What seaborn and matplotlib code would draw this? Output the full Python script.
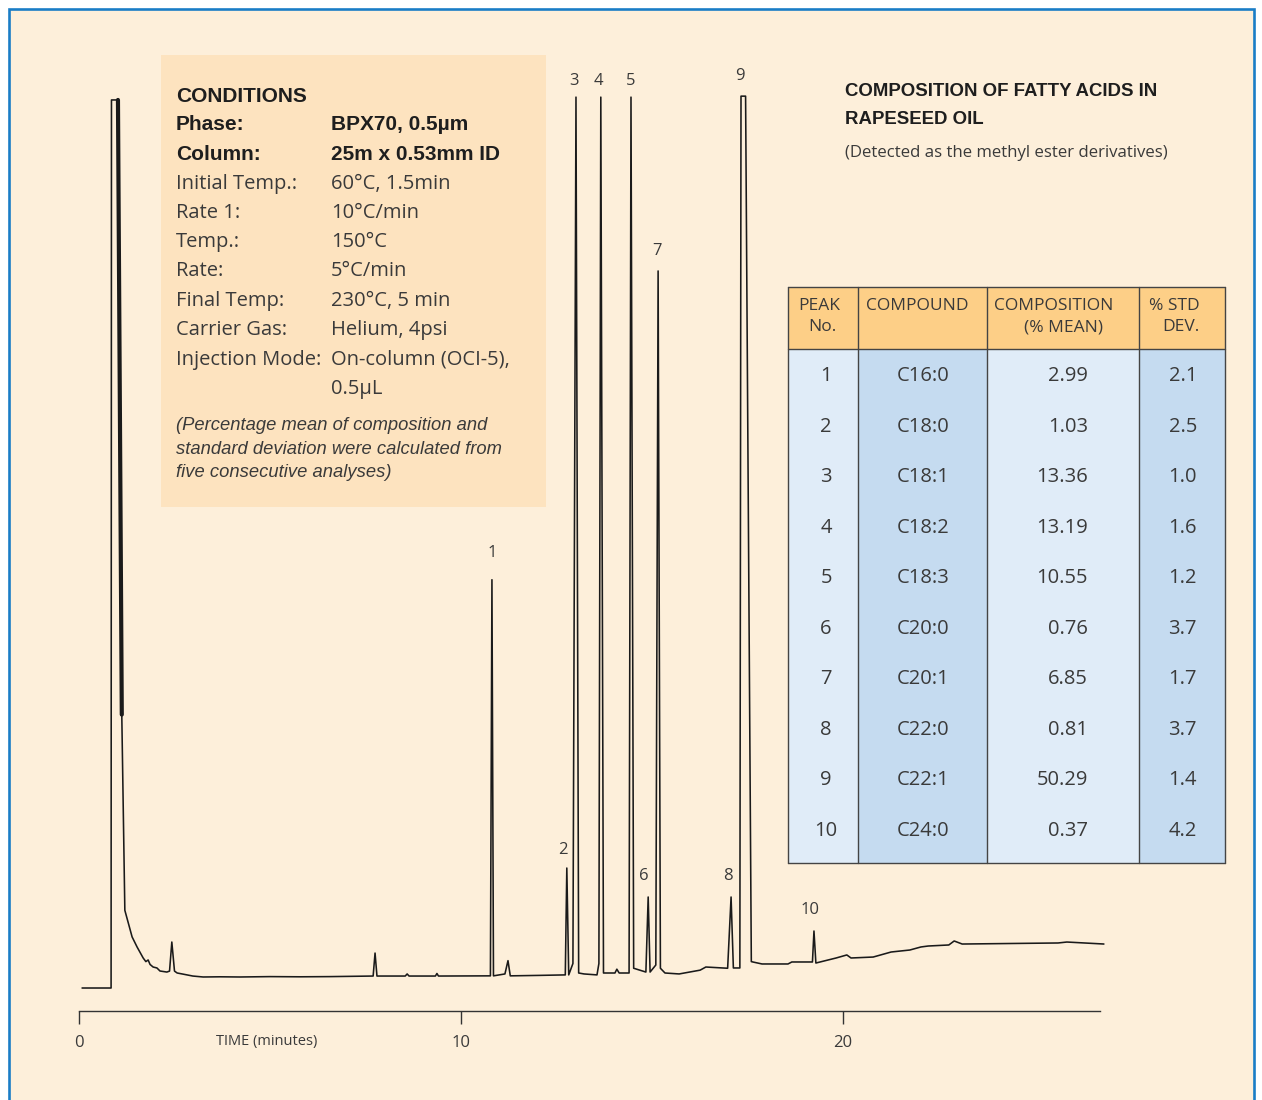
import matplotlib
matplotlib.use("Agg")
import matplotlib.pyplot as plt
from matplotlib.patches import Rectangle
import seaborn as sns
import pandas as pd

# ---------------- data ----------------
trace_time = [0.08, 0.84, 0.85, 1.02, 1.12, 1.20, 1.39, 1.52, 1.68, 1.75, 1.81, 1.86, 1.94,
              2.04, 2.12, 2.30, 2.37, 2.43, 2.50, 2.57, 2.70, 2.98, 3.25, 3.69, 4.21, 5.00,
              5.79, 6.57, 7.70, 7.75, 7.80, 8.54, 8.59, 8.64, 9.33, 9.37, 9.41, 10.77, 10.81,
              10.85, 11.15, 11.23, 11.29, 12.07, 12.73, 12.77, 12.82, 12.93, 13.01, 13.08,
              13.22, 13.56, 13.61, 13.66, 13.73, 14.03, 14.08, 14.14, 14.40, 14.45, 14.52,
              14.84, 14.90, 14.95, 15.10, 15.16, 15.22, 15.34, 15.71, 16.26, 16.41, 16.98,
              17.07, 17.13, 17.30, 17.33, 17.45, 17.60, 17.64, 17.88, 18.56, 18.66, 19.20,
              19.24, 19.29, 19.82, 20.10, 20.21, 20.79, 21.26, 21.75, 22.04, 22.23, 22.77,
              22.91, 23.12, 25.63, 25.86, 26.83]
trace_signal = [2.42, 2.42, 95.9, 95.9, 31.2, 10.6, 7.8, 6.74, 5.58, 5.2, 5.37, 4.9, 4.63,
                4.53, 4.21, 4.1, 4.2, 7.26, 4.2, 4.0, 3.9, 3.68, 3.58, 3.6, 3.58, 3.62,
                3.6, 3.62, 3.68, 6.1, 3.68, 3.68, 3.9, 3.68, 3.68, 3.95, 3.68, 3.7, 45.4,
                3.7, 3.9, 5.3, 3.7, 3.75, 3.8, 15.05, 3.8, 5.0, 96.2, 4.0,
                3.9, 3.8, 5.0, 96.2, 4.0, 4.0, 4.4, 4.0, 4.0, 96.2, 4.5,
                4.1, 12.0, 4.1, 4.84, 77.9, 4.5, 4.0, 3.9, 4.3, 4.63, 4.5,
                12.0, 4.53, 4.53, 96.3, 96.3, 5.2, 5.16, 4.95, 4.95, 5.16, 5.16,
                8.42, 5.05, 5.58, 5.9, 5.58, 5.68, 6.21, 6.42, 6.74, 6.84, 6.95,
                7.37, 7.05, 7.16, 7.26, 7.05]

peak_numbers = ["1", "2", "3", "4", "5", "6", "7", "8", "9", "10"]
peak_label_time = [10.81, 12.67, 12.96, 13.61, 14.45, 14.79, 15.13, 17.00, 17.30, 19.14]
peak_label_signal = [48.2, 17.0, 97.9, 97.9, 97.9, 14.2, 80.0, 14.2, 98.4, 10.6]

x_ticks = [0, 10, 20]
x_tick_labels = ["0", "10", "20"]
x_label = "TIME (minutes)"

compounds = ["C16:0", "C18:0", "C18:1", "C18:2", "C18:3", "C20:0", "C20:1", "C22:0", "C22:1", "C24:0"]
composition = ["2.99", "1.03", "13.36", "13.19", "10.55", "0.76", "6.85", "0.81", "50.29", "0.37"]
std_dev = ["2.1", "2.5", "1.0", "1.6", "1.2", "3.7", "1.7", "3.7", "1.4", "4.2"]
header_line1 = ["PEAK", "COMPOUND", "COMPOSITION", "% STD"]
header_line2 = ["No.", "", "(% MEAN)", "DEV."]

cond_bold_labels = ["Phase:", "Column:"]
cond_bold_values = ["BPX70, 0.5µm", "25m x 0.53mm ID"]
cond_labels = ["Initial Temp.:", "Rate 1:", "Temp.:", "Rate:", "Final Temp:", "Carrier Gas:",
               "Injection Mode:", ""]
cond_values = ["60°C, 1.5min", "10°C/min", "150°C", "5°C/min", "230°C, 5 min", "Helium, 4psi",
               "On-column (OCI-5),", "0.5µL"]
cond_note = ["(Percentage mean of composition and",
             "standard deviation were calculated from",
             "five consecutive analyses)"]

title_lines = ["COMPOSITION OF FATTY ACIDS IN", "RAPESEED OIL"]
subtitle = "(Detected as the methyl ester derivatives)"

# ---------------- style ----------------
sns.set_theme(style="white")
plt.rcParams["font.family"] = ["Open Sans", "DejaVu Sans"]

W, H = 1262, 1100
CREAM = "#FDEFDA"
BOX = "#FDE3BF"
HEAD = "#FDCF87"
LBLUE = "#E0ECF8"
DBLUE = "#C5DBF0"
TXT = "#3a3a3a"
DARK = "#1e1e1e"

fig = plt.figure(figsize=(W / 100, H / 100), dpi=100, facecolor="white")


def fx(px):
    return px / W


def fy(py):
    return 1 - py / H


# outer blue frame with cream fill
fig.add_artist(Rectangle((fx(9), fy(1140)), fx(1245), (1131) / H, transform=fig.transFigure,
                         facecolor=CREAM, edgecolor="#1A7DC6", lw=1.9, zorder=0))

# conditions box
fig.add_artist(Rectangle((fx(161), fy(507)), fx(385), (452) / H, transform=fig.transFigure,
                         facecolor=BOX, edgecolor="none", zorder=0.5))

# ---------------- chromatogram ----------------
ax = fig.add_axes([fx(79), fy(1011), fx(1025), (1011 - 61) / H])
ax.set_facecolor("none")
df = pd.DataFrame({"time": trace_time, "signal": trace_signal})
sns.lineplot(data=df, x="time", y="signal", sort=False, estimator=None, ax=ax,
             color="#1a1a1a", lw=1.15)
# heavy descending limb of solvent peak
sns.lineplot(data=df.iloc[3:5], x="time", y="signal", sort=False, estimator=None, ax=ax,
             color="#1a1a1a", lw=3.0)
for ln in ax.lines:
    ln.set_clip_on(False)
ax.set_xlim(0, 1025 / 38.2)
ax.set_ylim(0, 100)
for s in ["top", "right", "left"]:
    ax.spines[s].set_visible(False)
ax.spines["bottom"].set_bounds(0, 26.73)
ax.spines["bottom"].set_color("#333333")
ax.spines["bottom"].set_linewidth(1.0)
ax.set_yticks([])
ax.set_xticks(x_ticks)
ax.set_xticklabels(x_tick_labels, fontsize=12, color=TXT)
ax.tick_params(axis="x", direction="out", length=9.5, width=1.0, color="#333333", pad=7.5,
               bottom=True)
ax.set_xlabel("")
ax.set_ylabel("")
fig.text(fx(267), fy(1041), x_label, ha="center", va="center", fontsize=10.5, color=TXT)

for lab, t, s in zip(peak_numbers, peak_label_time, peak_label_signal):
    ax.text(t, s, lab, ha="center", va="center", fontsize=12, color=TXT)

# ---------------- conditions text ----------------
BOLD = dict(family=["Liberation Sans", "DejaVu Sans"], weight="bold", color=DARK, fontsize=15)
LIGHT = dict(family=["Open Sans", "DejaVu Sans"], color=TXT, fontsize=14.5)
fig.text(fx(176), fy(96), "CONDITIONS", ha="left", va="center", **BOLD)
row_y = [125, 154, 184, 213, 242, 271, 301, 330, 360, 389]
for i, (a, b) in enumerate(zip(cond_bold_labels, cond_bold_values)):
    fig.text(fx(176), fy(row_y[i]), a, ha="left", va="center", **BOLD)
    fig.text(fx(331), fy(row_y[i]), b, ha="left", va="center", **BOLD)
for j, (a, b) in enumerate(zip(cond_labels, cond_values)):
    y = row_y[j + 2]
    if a:
        fig.text(fx(176), fy(y), a, ha="left", va="center", **LIGHT)
    fig.text(fx(331), fy(y), b, ha="left", va="center", **LIGHT)
for k, line in enumerate(cond_note):
    fig.text(fx(176), fy(425 + 24 * k), line, ha="left", va="center",
             family=["Liberation Sans", "DejaVu Sans"], style="italic", color=TXT, fontsize=13.2)

# ---------------- title ----------------
for k, line in enumerate(title_lines):
    fig.text(fx(845), fy(92 + 27 * k), line, ha="left", va="center",
             family=["Liberation Sans", "DejaVu Sans"], weight="bold", color=DARK, fontsize=13.4)
fig.text(fx(845), fy(153), subtitle, ha="left", va="center", color=TXT, fontsize=12.1)

# ---------------- table ----------------
tx0, ty0, tx1, ty1 = 788, 287, 1225, 863
tab = fig.add_axes([fx(tx0), fy(ty1), fx(tx1 - tx0), (ty1 - ty0) / H])
tab.set_facecolor("none")
tab.set_axis_off()
col_edges = [0, 70, 199, 351, 437]
head_h = 62
n_rows = len(compounds)
tab.set_xlim(0, 437)
tab.set_ylim(ty1 - ty0, 0)
col_fill = [LBLUE, DBLUE, LBLUE, DBLUE]
for c in range(4):
    w = col_edges[c + 1] - col_edges[c]
    tab.add_patch(Rectangle((col_edges[c], 0), w, head_h, facecolor=HEAD, edgecolor="none"))
    tab.add_patch(Rectangle((col_edges[c], head_h), w, ty1 - ty0 - head_h,
                            facecolor=col_fill[c], edgecolor="none"))
line_kw = dict(color="#444444", lw=1.0, clip_on=False)
for xe in col_edges:
    tab.plot([xe, xe], [0, ty1 - ty0], **line_kw)
for ye in [0, head_h, ty1 - ty0]:
    tab.plot([0, 437], [ye, ye], **line_kw)

h1_x = [31, 129, 266, 386]
h2_x = [34, 129, 275, 393]
HFS = 12.5
for c in range(4):
    tab.text(h1_x[c], 19, header_line1[c], ha="center", va="center", color=TXT, fontsize=HFS)
    if header_line2[c]:
        tab.text(h2_x[c], 40, header_line2[c], ha="center", va="center", color=TXT, fontsize=HFS)

BFS = 14.5
row_step = (831 - 376) / (n_rows - 1)
for r in range(n_rows):
    yc = (376 - ty0) + row_step * r
    tab.text(38, yc, peak_numbers[r], ha="center", va="center", color=TXT, fontsize=BFS)
    tab.text(135, yc, compounds[r], ha="center", va="center", color=TXT, fontsize=BFS)
    tab.text(300, yc, composition[r], ha="right", va="center", color=TXT, fontsize=BFS)
    tab.text(409, yc, std_dev[r], ha="right", va="center", color=TXT, fontsize=BFS)

fig.savefig("out.png", dpi=100, facecolor="white")
